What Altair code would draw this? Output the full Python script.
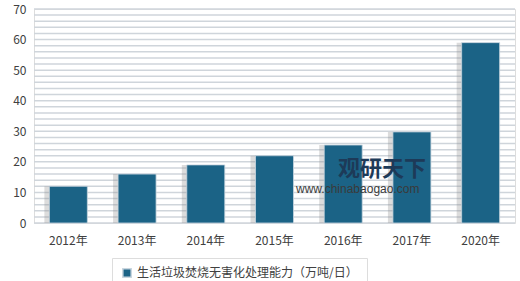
import altair as alt
import pandas as pd

years = ["2012年", "2013年", "2014年", "2015年", "2016年", "2017年", "2020年"]
capacity = [12, 16, 19, 22, 25.5, 29.8, 59]
series_name = "生活垃圾焚烧无害化处理能力（万吨/日）"
grid_values = list(range(0, 72, 2))
tick_values = list(range(0, 80, 10))
watermark_title = ["观研天下"]
watermark_url = ["www.chinabaogao.com"]

df = pd.DataFrame({"year": years, "value": capacity, "series": [series_name] * len(years)})
grid_df = pd.DataFrame({"value": grid_values})

FONT = "Noto Sans CJK SC"
yscale = alt.Scale(domain=[0, 70], nice=False)
y_axis = alt.Axis(values=tick_values, grid=False,
                  labelFontSize=12, labelColor="#404040", labelFont=FONT,
                  ticks=False, domain=False, labelPadding=8)
x_enc = alt.X("year:N", sort=years, title=None,
              scale=alt.Scale(paddingInner=0.44, paddingOuter=0.22),
              axis=alt.Axis(labelAngle=0, labelFontSize=12, labelColor="#404040",
                            labelFont=FONT, ticks=False, domain=False, labelPadding=12))
y_enc = alt.Y("value:Q", title=None, scale=yscale, axis=y_axis)

grid = alt.Chart(grid_df).mark_rule(color="#cfd5db", strokeWidth=1.5).encode(y=y_enc)

shadow = alt.Chart(df).mark_bar(color="#8a8a8a", opacity=0.3, xOffset=-4, size=40).encode(
    x=x_enc, y=y_enc
)

bars = alt.Chart(df).mark_bar(size=38, stroke="#c9d6df", strokeWidth=0.8).encode(
    x=x_enc, y=y_enc,
    color=alt.Color("series:N", title=None,
                    scale=alt.Scale(range=["#1b6386"]),
                    legend=alt.Legend(orient="none", legendX=78, legendY=249,
                                      symbolType="square", symbolSize=70,
                                      labelFontSize=12, labelFont=FONT, labelColor="#404040",
                                      labelLimit=400, padding=9,
                                      fillColor="white", strokeColor="#dddddd"))
)

wm1 = alt.Chart(pd.DataFrame({"t": watermark_title})).mark_text(
    fontSize=22, fontWeight="bold", font=FONT,
    color="#1d3a58", align="left", baseline="middle").encode(
    text="t:N", x=alt.value(304), y=alt.value(160))
wm2 = alt.Chart(pd.DataFrame({"t": watermark_url})).mark_text(
    fontSize=12, font="Liberation Sans",
    color="#3a3a3a", align="left", baseline="middle").encode(
    text="t:N", x=alt.value(262), y=alt.value(180))

chart = alt.layer(grid, shadow, bars, wm1, wm2).properties(
    width=481, height=214,
    autosize=alt.AutoSizeParams(type="none"),
    padding={"left": 34, "top": 9, "right": 5, "bottom": 58},
).configure_view(fill="#eaf0f5", stroke=None).configure(background="white")

chart.save("out.html", embed_options={"renderer": "svg", "actions": False})
